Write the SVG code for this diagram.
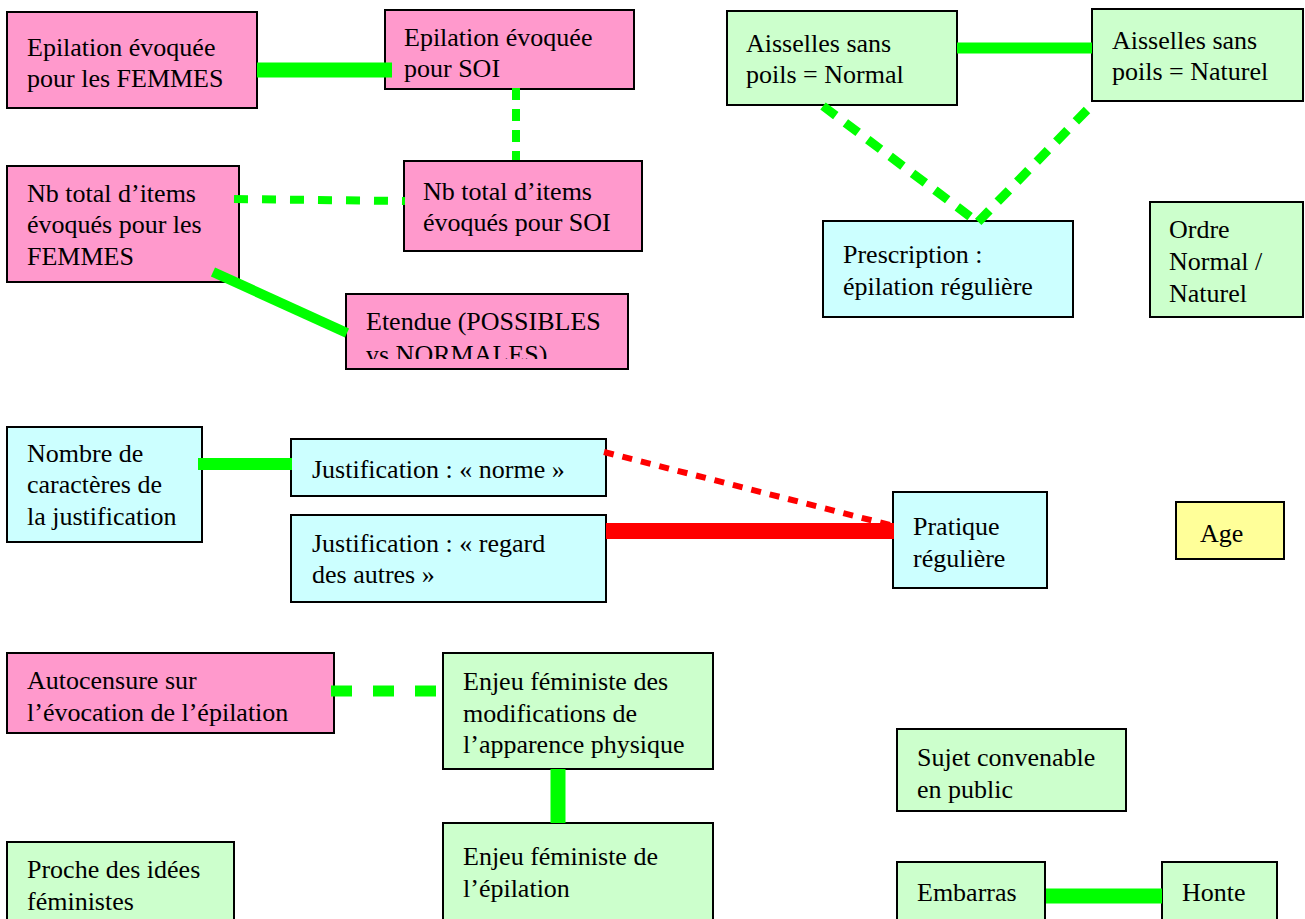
<svg xmlns="http://www.w3.org/2000/svg" width="1305" height="919" viewBox="0 0 1305 919">
<style>
.box{stroke:#000;stroke-width:2}
.pink{fill:#FF99CC}
.green{fill:#CCFFCC}
.cyan{fill:#CCFFFF}
.yellow{fill:#FFFF99}
.g{stroke:#00FF00;fill:none}
.r{stroke:#FF0000;fill:none}
</style>
<defs>
<clipPath id="clipE"><rect x="346" y="294" width="282" height="65"/></clipPath>
</defs>
<rect width="1305" height="919" fill="#fff"/>
<g id="nodes" font-family="Liberation Serif, Times New Roman, serif" font-size="26" fill="#000">
<g id="nodeA"><rect class="box pink" x="7" y="12" width="250" height="96"/><text x="27" y="56">Epilation évoquée</text><text x="27" y="87">pour les FEMMES</text></g>
<g id="nodeB"><rect class="box pink" x="385" y="10" width="249" height="79"/><text x="404" y="46">Epilation évoquée</text><text x="404" y="77">pour SOI</text></g>
<g id="nodeC"><rect class="box pink" x="7" y="166" width="232" height="116"/><text x="27" y="202">Nb total d’items</text><text x="27" y="233">évoqués pour les</text><text x="27" y="265">FEMMES</text></g>
<g id="nodeD"><rect class="box pink" x="404" y="161" width="238" height="90"/><text x="423" y="200">Nb total d’items</text><text x="423" y="231">évoqués pour SOI</text></g>
<g id="nodeE"><rect class="box pink" x="346" y="294" width="282" height="75"/><g clip-path="url(#clipE)"><text x="366" y="330">Etendue (POSSIBLES</text><text x="366" y="363">vs NORMALES)</text></g></g>
<g id="nodeF"><rect class="box green" x="727" y="11" width="230" height="94"/><text x="746" y="52">Aisselles sans</text><text x="746" y="83">poils = Normal</text></g>
<g id="nodeG"><rect class="box green" x="1092" y="9" width="211" height="92"/><text x="1112" y="49">Aisselles sans</text><text x="1112" y="80">poils = Naturel</text></g>
<g id="nodeH"><rect class="box cyan" x="823" y="221" width="250" height="96"/><text x="843" y="263">Prescription :</text><text x="843" y="295">épilation régulière</text></g>
<g id="nodeI"><rect class="box green" x="1150" y="202" width="153" height="115"/><text x="1169" y="238">Ordre</text><text x="1169" y="270">Normal /</text><text x="1169" y="302">Naturel</text></g>
<g id="nodeJ"><rect class="box cyan" x="7" y="427" width="195" height="115"/><text x="27" y="462">Nombre de</text><text x="27" y="493">caractères de</text><text x="27" y="525">la justification</text></g>
<g id="nodeK"><rect class="box cyan" x="291" y="439" width="315" height="57"/><text x="312" y="478">Justification : « norme »</text></g>
<g id="nodeL"><rect class="box cyan" x="291" y="515" width="315" height="87"/><text x="312" y="552">Justification : « regard</text><text x="312" y="583">des autres »</text></g>
<g id="nodeM"><rect class="box cyan" x="893" y="492" width="154" height="96"/><text x="913" y="535">Pratique</text><text x="913" y="567">régulière</text></g>
<g id="nodeN"><rect class="box yellow" x="1176" y="502" width="108" height="57"/><text x="1200" y="542">Age</text></g>
<g id="nodeO"><rect class="box pink" x="7" y="653" width="327" height="80"/><text x="27" y="689">Autocensure sur</text><text x="27" y="721">l’évocation de l’épilation</text></g>
<g id="nodeP"><rect class="box green" x="443" y="653" width="270" height="116"/><text x="463" y="690">Enjeu féministe des</text><text x="463" y="722">modifications de</text><text x="463" y="753">l’apparence physique</text></g>
<g id="nodeQ"><rect class="box green" x="443" y="823" width="270" height="110"/><text x="463" y="865">Enjeu féministe de</text><text x="463" y="897">l’épilation</text></g>
<g id="nodeR"><rect class="box green" x="7" y="842" width="227" height="90"/><text x="27" y="878">Proche des idées</text><text x="27" y="910">féministes</text></g>
<g id="nodeS"><rect class="box green" x="897" y="729" width="229" height="82"/><text x="917" y="766">Sujet convenable</text><text x="917" y="798">en public</text></g>
<g id="nodeT"><rect class="box green" x="897" y="862" width="148" height="70"/><text x="917" y="901">Embarras</text></g>
<g id="nodeU"><rect class="box green" x="1162" y="862" width="115" height="70"/><text x="1182" y="901">Honte</text></g>
</g>
<g id="connectors">
<line class="g" x1="257" y1="70" x2="392" y2="70" stroke-width="15"/>
<line class="g" x1="516" y1="88" x2="516" y2="160" stroke-width="8" stroke-dasharray="12 9"/>
<line class="g" x1="234" y1="199" x2="405" y2="201" stroke-width="8" stroke-dasharray="14 14"/>
<line class="g" x1="213" y1="272" x2="347" y2="333" stroke-width="10"/>
<line class="g" x1="957" y1="48" x2="1092" y2="48" stroke-width="11"/>
<line class="g" x1="823" y1="106" x2="972" y2="218" stroke-width="9" stroke-dasharray="16 12"/>
<line class="g" x1="1087" y1="110" x2="978" y2="222" stroke-width="9" stroke-dasharray="16 12"/>
<line class="g" x1="198" y1="464" x2="292" y2="464" stroke-width="12"/>
<line class="r" x1="604" y1="452" x2="890" y2="525" stroke-width="6" stroke-dasharray="10 9"/>
<line class="r" x1="606" y1="531" x2="894" y2="531" stroke-width="16"/>
<line class="g" x1="331" y1="691" x2="437" y2="691" stroke-width="11" stroke-dasharray="21 21"/>
<line class="g" x1="558" y1="769" x2="558" y2="823" stroke-width="15"/>
<line class="g" x1="1046" y1="896" x2="1162" y2="896" stroke-width="15"/>
</g>
</svg>
